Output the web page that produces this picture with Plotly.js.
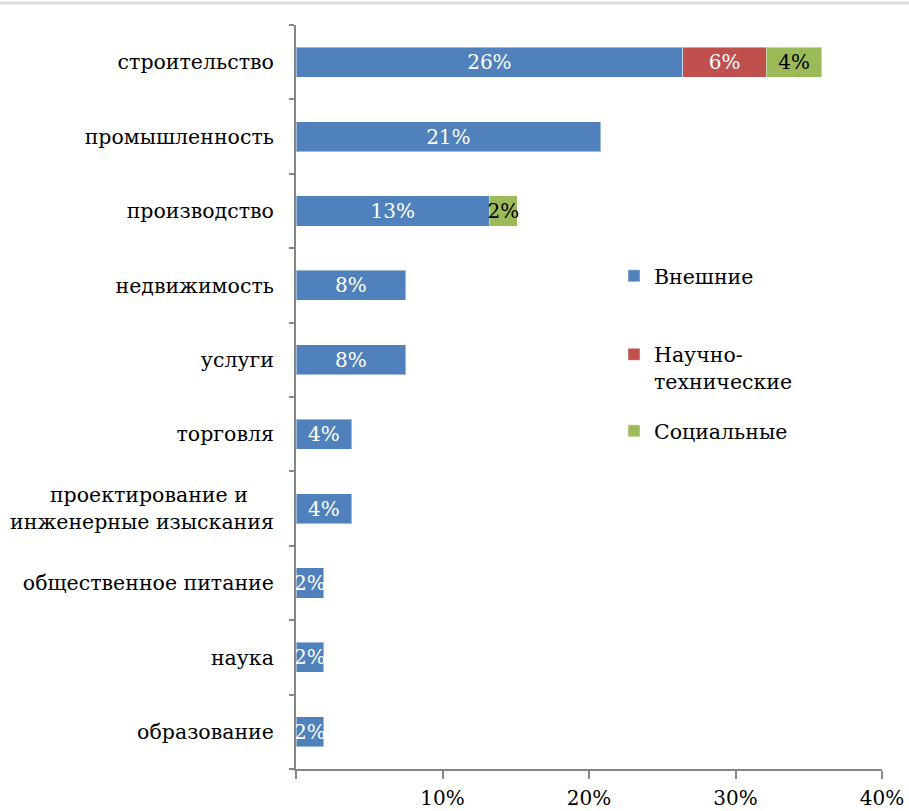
<!DOCTYPE html>
<html><head><meta charset="utf-8">
<script src="https://cdn.plot.ly/plotly-3.0.1.min.js"></script>
<style>html,body{margin:0;padding:0;background:#fff;}#chart{width:909px;height:811px;}</style>
</head><body><div id="chart"></div>
<script>
const categories = ["строительство","промышленность","производство","недвижимость","услуги","торговля","проектирование и<br>инженерные изыскания","общественное питание","наука","образование"];
const tickLabels = ["строительство","промышленность","производство","недвижимость","услуги","торговля","проектирование и\u00a0\u00a0\u00a0\u00a0<br>инженерные изыскания","общественное питание","наука","образование"];
const external = [0.264,0.208,0.132,0.075,0.075,0.038,0.038,0.019,0.019,0.019];
const scitech  = [0.057,null,null,null,null,null,null,null,null,null];
const social   = [0.038,null,0.019,null,null,null,null,null,null,null];
const seriesNames = ["Внешние","Научно-<br>технические","Социальные"];
const xTickVals = [0,0.1,0.2,0.3,0.4];
const xTickText = ["","10%","20%","30%","40%"];

const FONT = "DejaVu Serif, serif";
function mk(vals, name, color, txtColor, legendId){
  return {type:'bar', orientation:'h', y:categories, x:vals, name:name,
    marker:{color:color, line:{color:'rgba(255,255,255,0.45)', width:1}},
    texttemplate:'%{x:.0%}', textposition:'inside', insidetextanchor:'middle',
    constraintext:'none', textangle:0, cliponaxis:false,
    textfont:{family:FONT, size:20, color:txtColor},
    hoverinfo:'skip', legend:legendId};
}
const data = [
  mk(external, seriesNames[0], '#4F81BD', '#ffffff', 'legend'),
  mk(scitech, seriesNames[1], '#C0504D', '#ffffff', 'legend2'),
  mk(social, seriesNames[2], '#9BBB59', '#000000', 'legend3')
];
const legBase = {font:{family:FONT,size:20.5,color:'#000'}, bgcolor:'rgba(0,0,0,0)', xanchor:'left', yanchor:'middle', valign:'top', itemwidth:30, tracegroupgap:0};
function yPaper(px){ return (769-px)/744; }
function xPaper(px){ return (px-296)/586; }
const layout = {
  width:909, height:811,
  margin:{l:296, r:27, t:25, b:42},
  paper_bgcolor:'#fff', plot_bgcolor:'#fff',
  barmode:'stack', bargap:0.596,
  font:{family:FONT, size:20.5, color:'#000'},
  showlegend:true,
  legend:Object.assign({}, legBase, {x:xPaper(614), y:yPaper(276)}),
  legend2:Object.assign({}, legBase, {x:xPaper(614), y:yPaper(368)}),
  legend3:Object.assign({}, legBase, {x:xPaper(614), y:yPaper(431)}),
  xaxis:{range:[0,0.4], tickvals:xTickVals, ticktext:xTickText, showgrid:false, zeroline:false,
    showline:true, linecolor:'#868686', linewidth:2, ticks:'outside', ticklen:8, tickwidth:2, tickcolor:'#868686',
    ticklabelstandoff:2, tickfont:{family:FONT,size:20,color:'#000'}, fixedrange:true},
  yaxis:{type:'category', categoryorder:'array', categoryarray:categories, autorange:'reversed',
    tickvals:categories, ticktext:tickLabels,
    showgrid:false, zeroline:false, showline:true, linecolor:'#868686', linewidth:2,
    ticks:'outside', tickson:'boundaries', ticklen:5, tickwidth:2, tickcolor:'#868686',
    ticklabelstandoff:16, tickfont:{family:FONT,size:20.5,color:'#000'}, fixedrange:true},
  shapes:[{type:'line', xref:'paper', yref:'paper', x0:-296/586, x1:1+27/586, y0:1+22/744, y1:1+22/744,
    line:{color:'#dcdcdc', width:3}}]
};
Plotly.newPlot('chart', data, layout, {displayModeBar:false, staticPlot:true});
</script></body></html>
